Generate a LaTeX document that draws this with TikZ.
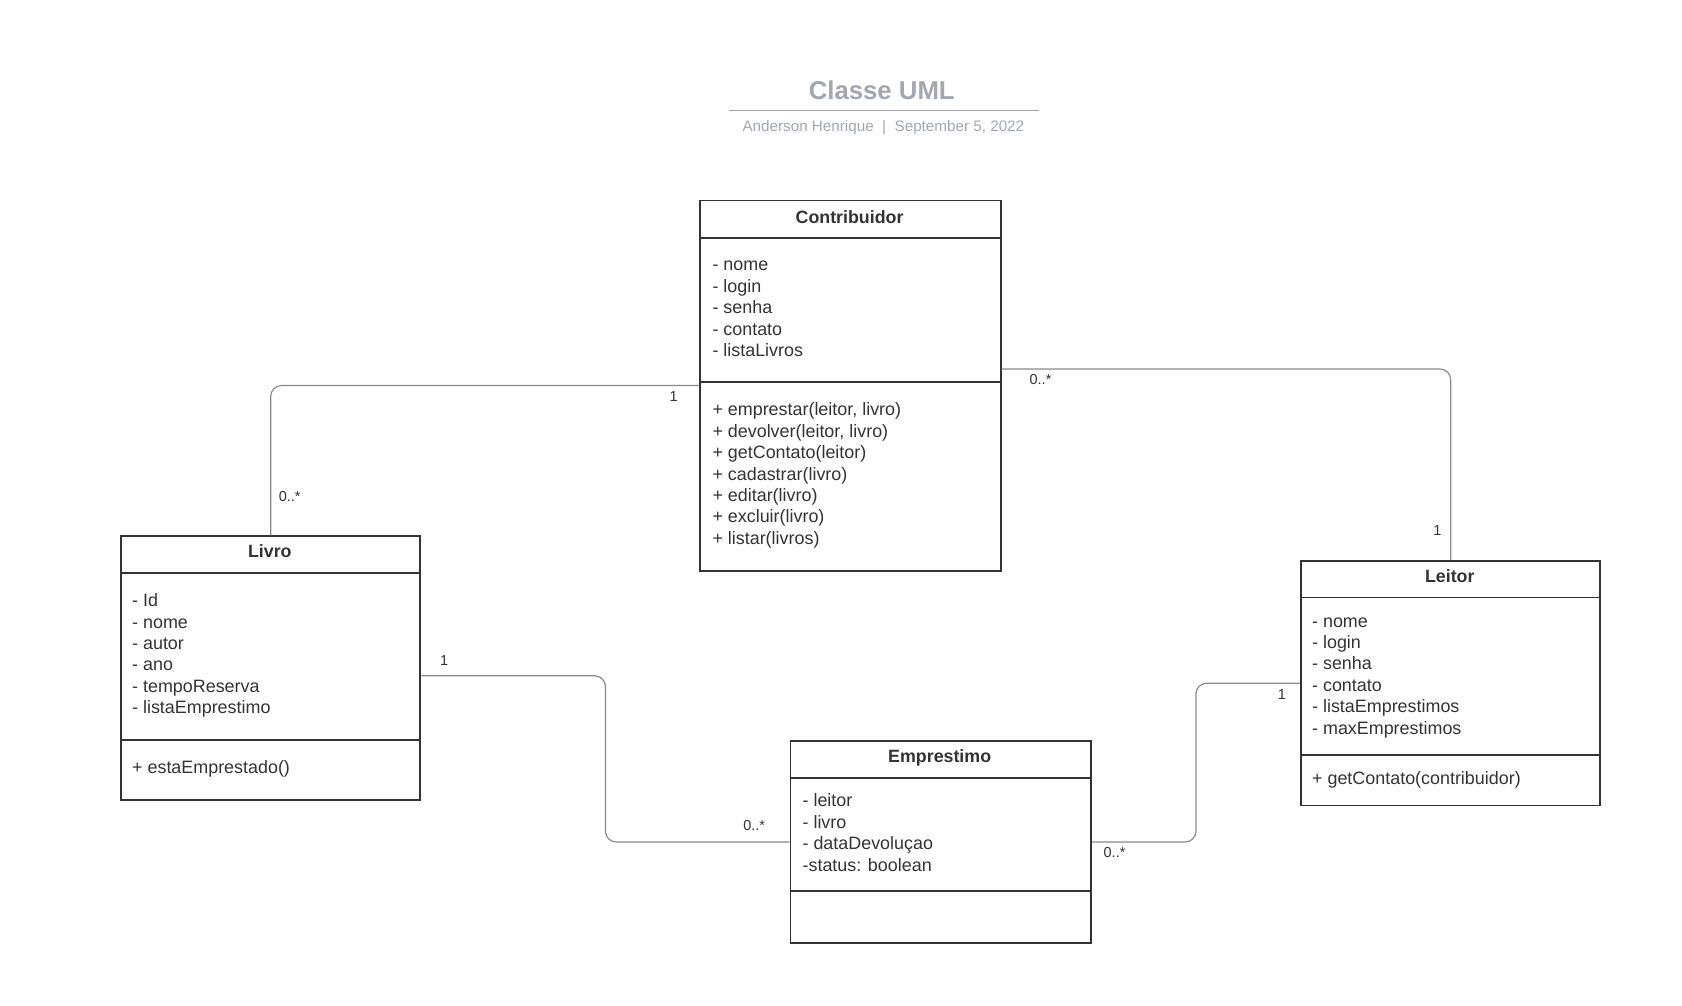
\documentclass[tikz,border=0pt]{standalone}
\usepackage{fontspec}
\setmainfont{Liberation Sans}
\usetikzlibrary{calc}
\definecolor{txt}{HTML}{333333}
\definecolor{boxc}{HTML}{333333}
\definecolor{conc}{HTML}{8A8A8A}
\definecolor{ttl}{HTML}{A3A7B2}
\tikzset{
  classbox/.style={draw=boxc, line width=1.8pt, anchor=north west, inner sep=0pt, fill=none},
  divider/.style={draw=boxc, line width=1.8pt},
  classtitle/.style={anchor=base, inner sep=0pt, text=txt, font=\fontsize{16.6}{20}\selectfont\bfseries},
  attr/.style={anchor=base west, inner sep=0pt, text=txt, font=\fontsize{16.7}{20}\selectfont},
  conn/.style={draw=conc, line width=1.1pt, rounded corners=10pt},
  mult/.style={anchor=center, inner sep=0pt, text=txt, font=\fontsize{13.5}{16}\selectfont},
}
\begin{document}
\begin{tikzpicture}[x=1pt,y=-1pt]
\useasboundingbox (0,0) rectangle (1568,937);
% title
\node[anchor=center, inner sep=0pt, text=ttl, font=\fontsize{24}{28}\selectfont\bfseries] (title) at (822,84) {Classe UML};
\coordinate (tl) at (680,103);
\coordinate (tr) at (969,103);
\draw[draw=ttl, line width=1.6pt] (tl) -- (tr);
\node[anchor=center, inner sep=0pt, text=ttl, font=\fontsize{14.2}{16}\selectfont] (subtitle) at (823.5,119) {Anderson Henrique\ \ |\ \ September 5, 2022};

% Contribuidor
\node[classbox, minimum width=280pt, minimum height=345pt] (contrib) at (652,186) {};
\draw[divider] (652,222) -- (932,222);
\draw[divider] (652,356) -- (932,356);
\node[classtitle] (contribT) at (792,208) {Contribuidor};
\node[attr] (c1) at (664,252.5) {- nome};
\node[attr] (c2) at (664,272.5) {- login};
\node[attr] (c3) at (664,292.5) {- senha};
\node[attr] (c4) at (664,312.5) {- contato};
\node[attr] (c5) at (664,332.5) {- listaLivros};
\node[attr] (cm1) at (664,387.5) {+ emprestar(leitor, livro)};
\node[attr] (cm2) at (664,407.5) {+ devolver(leitor, livro)};
\node[attr] (cm3) at (664,427.5) {+ getContato(leitor)};
\node[attr] (cm4) at (664,447.5) {+ cadastrar(livro)};
\node[attr] (cm5) at (664,467.5) {+ editar(livro)};
\node[attr] (cm6) at (664,487.5) {+ excluir(livro)};
\node[attr] (cm7) at (664,507.5) {+ listar(livros)};

% Livro
\node[classbox, minimum width=279pt, minimum height=246pt] (livro) at (112,499) {};
\draw[divider] (112,534) -- (391,534);
\draw[divider] (112,690) -- (391,690);
\node[classtitle] (livroT) at (251.5,520) {Livro};
\node[attr] (l1) at (123,565.5) {- Id};
\node[attr] (l2) at (123,585.5) {- nome};
\node[attr] (l3) at (123,605.5) {- autor};
\node[attr] (l4) at (123,625.5) {- ano};
\node[attr] (l5) at (123,645.5) {- tempoReserva};
\node[attr] (l6) at (123,665.5) {- listaEmprestimo};
\node[attr] (lm1) at (123,721.5) {+ estaEmprestado()};

% Leitor
\node[classbox, minimum width=279pt, minimum height=228pt] (leitor) at (1212,522) {};
\draw[divider] (1212,557) -- (1491,557);
\draw[divider] (1212,704) -- (1491,704);
\node[classtitle] (leitorT) at (1351.5,543) {Leitor};
\node[attr] (r1) at (1223,584.5) {- nome};
\node[attr] (r2) at (1223,604.5) {- login};
\node[attr] (r3) at (1223,624.5) {- senha};
\node[attr] (r4) at (1223,644.5) {- contato};
\node[attr] (r5) at (1223,664.5) {- listaEmprestimos};
\node[attr] (r6) at (1223,684.5) {- maxEmprestimos};
\node[attr] (rm1) at (1223,731.5) {+ getContato(contribuidor)};

% Emprestimo
\node[classbox, minimum width=280pt, minimum height=188pt] (emp) at (736,690) {};
\draw[divider] (736,725) -- (1016,725);
\draw[divider] (736,831) -- (1016,831);
\node[classtitle] (empT) at (876,711) {Emprestimo};
\node[attr] (e1) at (748,752) {- leitor};
\node[attr] (e2) at (748,772) {- livro};
\node[attr] (e3) at (748,792) {- dataDevoluçao};
\node[attr] (e4) at (748,812) {-status: boolean};

% connectors
\coordinate (cR) at ($(contrib.north east)+(0,158)$);
\coordinate (lR) at ($(livro.north east)+(0,131)$);
\draw[conn] (contrib.west) -| (livro.north);
\draw[conn] (cR) -| (leitor.north);
\draw[conn] (lR) -| ($(lR)!0.5!(emp.west)$) |- (emp.west);
\draw[conn] (emp.east) -| ($(emp.east)!0.5!(leitor.west)$) |- (leitor.west);

% multiplicities
\node[mult] (m1) at (628,369.5) {1};
\node[mult] (m2) at (270,462.5) {0..*};
\node[mult] (m3) at (970,353.5) {0..*};
\node[mult] (m4) at (1340,494.5) {1};
\node[mult] (m5) at (414,615.5) {1};
\node[mult] (m6) at (703,769.5) {0..*};
\node[mult] (m7) at (1039,794.5) {0..*};
\node[mult] (m8) at (1195,647.5) {1};
\end{tikzpicture}
\end{document}
